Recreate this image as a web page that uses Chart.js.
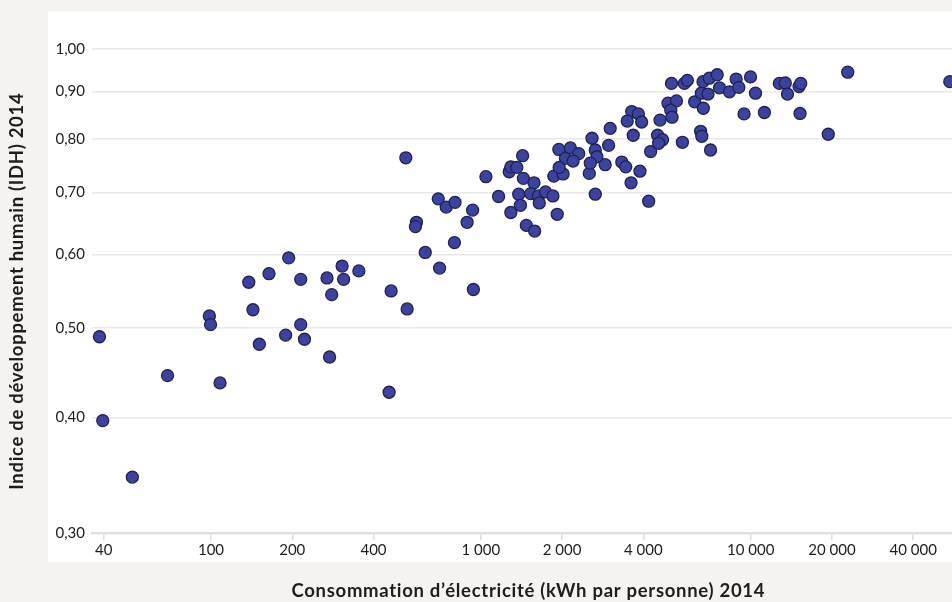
<!DOCTYPE html>
<html><head><meta charset="utf-8">
<script src="https://cdn.jsdelivr.net/npm/chart.js@4/dist/chart.umd.min.js"></script>
<style>
html,body{margin:0;padding:0;overflow:hidden;background:#f4f3f0;width:952px;height:602px}
canvas{display:block}
</style></head>
<body><canvas id="c" width="972" height="602"></canvas>
<script>
// Electricity consumption (kWh per person) 2014
const electricityKWh = [
  38.6, 39.7, 51.1, 69.0, 98.6, 99.6, 108, 138, 143, 151, 164, 189, 194, 215, 215, 222,
  269, 275, 280, 306, 310, 353, 457, 465, 533, 527, 577, 572,
  622, 695, 703, 744, 798, 802, 889, 932, 938, 1044, 1163, 1273, 1291, 1358, 1428, 1437,
  1573, 1381, 1401, 1291, 1529, 1632, 1646, 1736, 1849, 1474, 1582, 1918, 1864, 2017,
  1945, 2146, 2305, 2057, 2196, 1950, 2522, 2581, 3014, 2973, 2654, 2692, 2543, 2888,
  2654, 3327, 3442, 3886, 3601, 4185,
  3622, 3834, 3942, 3486, 3669, 4256, 4612, 4516, 4711, 4556, 5085, 4936, 5305, 5055, 5108, 5581,
  5676, 5823, 6197, 6560, 6943, 6673, 6656, 7020, 7512, 7658, 8340, 8827, 9032, 9981,
  10412, 9444, 11235, 6521, 6587, 7096, 12763, 13428, 13680, 15101, 15316, 15227,
  19372, 22876, 54640
];
// Human Development Index (HDI) 2014
const hdiIndex = [
  0.489, 0.397, 0.345, 0.444, 0.515, 0.504, 0.436, 0.560, 0.523, 0.480, 0.572, 0.491, 0.595, 0.564, 0.504, 0.486,
  0.566, 0.465, 0.543, 0.583, 0.564, 0.576, 0.426, 0.548, 0.524, 0.763, 0.650, 0.643,
  0.603, 0.689, 0.580, 0.675, 0.618, 0.683, 0.650, 0.670, 0.550, 0.728, 0.693, 0.737, 0.746, 0.745, 0.767, 0.725,
  0.717, 0.697, 0.678, 0.666, 0.698, 0.694, 0.682, 0.701, 0.694, 0.645, 0.636, 0.663, 0.729, 0.733,
  0.779, 0.782, 0.771, 0.762, 0.757, 0.745, 0.734, 0.801, 0.821, 0.787, 0.778, 0.765, 0.753, 0.750,
  0.697, 0.755, 0.746, 0.738, 0.717, 0.685,
  0.856, 0.851, 0.834, 0.836, 0.807, 0.775, 0.838, 0.807, 0.798, 0.791, 0.918, 0.874, 0.879, 0.859, 0.844, 0.793,
  0.918, 0.925, 0.877, 0.896, 0.894, 0.863, 0.922, 0.930, 0.938, 0.908, 0.899, 0.928, 0.909, 0.933,
  0.896, 0.851, 0.854, 0.815, 0.805, 0.778, 0.918, 0.919, 0.894, 0.911, 0.918, 0.852,
  0.809, 0.944, 0.922
];
const xTickValues = [40, 100, 200, 400, 1000, 2000, 4000, 10000, 20000, 40000];
const yTickValues = [0.30, 0.40, 0.50, 0.60, 0.70, 0.80, 0.90, 1.00];
const xAxisTitle = 'Consommation d’électricité (kWh par personne) 2014';
const yAxisTitle = 'Indice de développement humain (IDH) 2014';

const points = electricityKWh.map((x, i) => ({ x: x, y: hdiIndex[i] }));

const panelPlugin = {
  id: 'panel',
  afterUpdate(chart) {
    // widen axis titles a little (no ligatures) to match the reference typeface
    Object.values(chart.scales).forEach((s) => {
      if (s._titleWrapped) return;
      const orig = s.drawTitle;
      s.drawTitle = function () {
        const ctx = this.ctx;
        ctx.save();
        try { ctx.letterSpacing = '0.7px'; ctx.textRendering = 'optimizeSpeed'; } catch (e) {}
        orig.apply(this, arguments);
        ctx.restore();
      };
      s._titleWrapped = true;
    });
  },
  beforeDraw(chart) {
    const ctx = chart.ctx;
    ctx.save();
    ctx.fillStyle = '#f4f3f0';
    ctx.fillRect(0, 0, chart.width, chart.height);
    ctx.fillStyle = '#ffffff';
    ctx.fillRect(48, 11, chart.width - 48, 551);
    ctx.restore();
  }
};

function fmtThousands(v) {
  return String(Math.round(v)).replace(/\B(?=(\d{3})+(?!\d))/g, ' ');
}

function build() {
  Chart.defaults.font.family = 'Lato, "Open Sans", sans-serif';
  Chart.defaults.color = '#1d1d1b';
  new Chart(document.getElementById('c'), {
    type: 'scatter',
    data: {
      datasets: [{
        data: points,
        backgroundColor: '#3c439f',
        borderColor: '#1f2250',
        borderWidth: 1.3,
        pointRadius: 6,
        pointHoverRadius: 6,
        clip: false
      }]
    },
    plugins: [panelPlugin],
    options: {
      responsive: false,
      animation: false,
      devicePixelRatio: 1,
      layout: { padding: { top: 49, left: 0, right: 2, bottom: 0 } },
      plugins: { legend: { display: false }, tooltip: { enabled: false } },
      scales: {
        x: {
          type: 'logarithmic',
          min: 36.22,
          max: 62060,
          bounds: 'data',
          afterBuildTicks: (s) => { s.ticks = xTickValues.map(v => ({ value: v })); },
          afterFit: (s) => { s.height = 68.7; },
          ticks: {
            autoSkip: false,
            maxRotation: 0,
            padding: 1,
            font: { size: 15 },
            color: '#1d1d1b',
            callback: (v) => fmtThousands(v)
          },
          grid: {
            display: true,
            drawOnChartArea: false,
            drawTicks: true,
            tickLength: 7,
            color: '#dcdce6',
            lineWidth: 1.5
          },
          border: { display: true, color: '#dddde8', width: 2 },
          title: {
            display: true,
            text: xAxisTitle,
            font: { size: 18.5, weight: 'bold' },
            color: '#1d1d1b',
            padding: { top: 0, bottom: 0 }
          }
        },
        y: {
          type: 'logarithmic',
          min: 0.3,
          max: 1.0,
          bounds: 'data',
          afterBuildTicks: (s) => { s.ticks = yTickValues.map(v => ({ value: v })); },
          afterFit: (s) => { s.width = 92; },
          ticks: {
            autoSkip: false,
            padding: 7,
            font: { size: 15 },
            color: '#1d1d1b',
            callback: (v) => Number(v).toFixed(2).replace('.', ',')
          },
          grid: {
            color: '#e8e8e8',
            lineWidth: 1.5,
            drawTicks: false
          },
          border: { display: false },
          title: {
            display: true,
            text: yAxisTitle,
            font: { size: 18.5, weight: 'bold' },
            color: '#1d1d1b',
            padding: { top: 6, bottom: 0 }
          }
        }
      }
    }
  });
}

Promise.all([
  document.fonts.load('15px Lato'),
  document.fonts.load('bold 18px Lato')
]).then(build, build);
</script>
</body></html>
